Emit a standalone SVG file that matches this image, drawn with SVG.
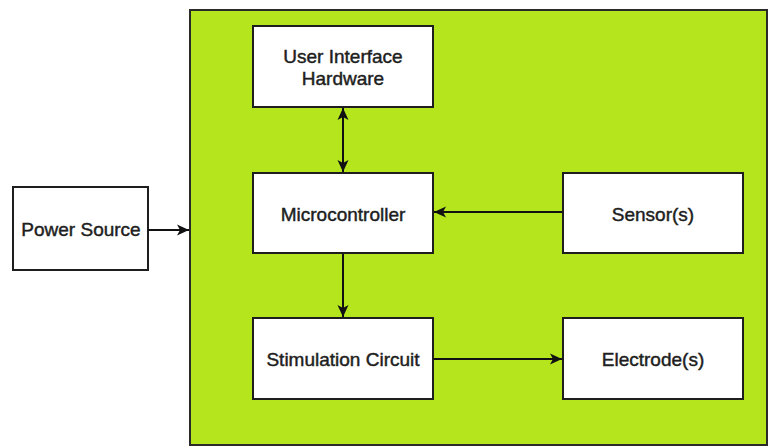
<svg xmlns="http://www.w3.org/2000/svg" width="770" height="448" viewBox="0 0 770 448">
<style>
.box{fill:#fff;stroke:#1e1e1e;stroke-width:2}
.t{font-family:"Liberation Sans",Arial,sans-serif;font-size:19px;fill:#1e1e1e;text-anchor:middle;stroke:#1e1e1e;stroke-width:0.45}
.c{stroke:#111;stroke-width:2;fill:none}
</style>
<defs>
<marker id="ah" viewBox="0 0 12 12" refX="12" refY="6" markerWidth="12" markerHeight="12" markerUnits="userSpaceOnUse" orient="auto-start-reverse">
<path d="M0,0.5 L12,6 L0,11.5 L3,6 z" fill="#111"/>
</marker>
</defs>
<rect width="770" height="448" fill="#fff"/>
<g id="system">
<rect x="190" y="10" width="577" height="435" fill="#b5e61d" stroke="#2a2a2a" stroke-width="2"/>
</g>
<g id="power-source">
<rect class="box" x="13" y="187" width="135" height="83"/>
<text class="t" x="81" y="236">Power Source</text>
</g>
<g id="ui-hardware">
<rect class="box" x="253" y="26" width="180" height="81"/>
<text class="t" x="343" y="63">User Interface</text>
<text class="t" x="343" y="85">Hardware</text>
</g>
<g id="microcontroller">
<rect class="box" x="253" y="173" width="180" height="80"/>
<text class="t" x="343" y="221">Microcontroller</text>
</g>
<g id="sensors">
<rect class="box" x="563" y="173" width="180" height="80"/>
<text class="t" x="653" y="221">Sensor(s)</text>
</g>
<g id="stimulation-circuit">
<rect class="box" x="253" y="318" width="180" height="81"/>
<text class="t" x="343" y="366">Stimulation Circuit</text>
</g>
<g id="electrodes">
<rect class="box" x="563" y="318" width="180" height="81"/>
<text class="t" x="653" y="366">Electrode(s)</text>
</g>
<g id="connectors">
<line class="c" x1="148" y1="230" x2="189" y2="230" marker-end="url(#ah)"/>
<line class="c" x1="343" y1="108" x2="343" y2="172" marker-start="url(#ah)" marker-end="url(#ah)"/>
<line class="c" x1="562" y1="212" x2="434" y2="212" marker-end="url(#ah)"/>
<line class="c" x1="343" y1="254" x2="343" y2="317" marker-end="url(#ah)"/>
<line class="c" x1="434" y1="359" x2="562" y2="359" marker-end="url(#ah)"/>
</g>
</svg>
